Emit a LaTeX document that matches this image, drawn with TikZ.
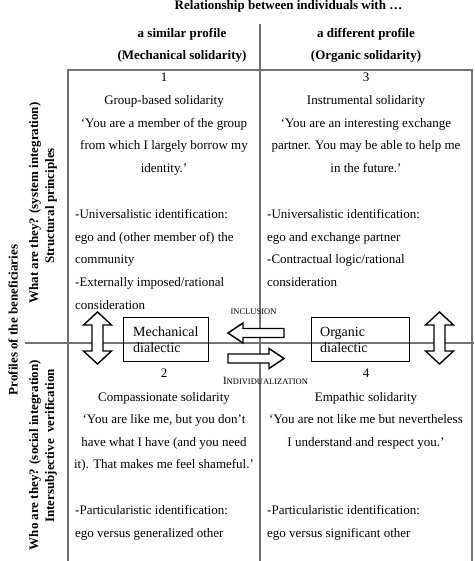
\documentclass[tikz,border=0pt]{standalone}
\usepackage{fontspec}
\setmainfont{Liberation Serif}
\begin{document}
\begin{tikzpicture}[x=1pt,y=-1pt,
  grid/.style={draw=black!55,line width=1.1pt},
  body/.style={inner sep=0pt,font=\fontsize{13}{13}\selectfont},
  cbody/.style={body,anchor=base},
  lbody/.style={body,anchor=base west},
  head/.style={inner sep=0pt,anchor=base,font=\bfseries\fontsize{13}{13}\selectfont},
  side/.style={inner sep=0pt,rotate=90,anchor=center,font=\bfseries\fontsize{13}{13}\selectfont},
  dbox/.style={draw=black,line width=0.9pt,anchor=north west,minimum height=44pt,inner sep=0pt},
  dtext/.style={inner sep=0pt,anchor=base west,font=\fontsize{14}{14}\selectfont},
  smallcap/.style={inner sep=0pt,anchor=base,font=\fontsize{8.5}{8.5}\selectfont},
  blockarrow/.style={draw=black,fill=white,line width=1.4pt,line join=miter}]
\useasboundingbox (0,0) rectangle (474,561);
% grid
\draw[grid] (68,561) -- (68,70) -- (472,70) -- (472,561);
\draw[grid] (260,24) -- (260,561);
\draw[grid] (25,343) -- (474,343);
% headers
\node[head] (title) at (288.5,10) {Relationship between individuals with …};
\node[head] (simA) at (182,37.5) {a similar profile};
\node[head] (simB) at (182,59.5) {(Mechanical solidarity)};
\node[head] (difA) at (366,37.5) {a different profile};
\node[head] (difB) at (366,59.5) {(Organic solidarity)};
% side labels
\node[side] (prof) at (13,320) {Profiles of the beneficiaries};
\node[side] (what) at (35,203) {What are they? (system integration)};
\node[side] (struct) at (51,206) {Structural principles};
\node[side] (who) at (35,455) {Who are they? (social integration)};
\node[side] (inter) at (51,446) {Intersubjective\ \ verification};
% cell 1
\node[cbody] (c1n) at (164,81.5) {1};
\node[cbody] (c1a) at (164,104.3) {Group-based solidarity};
\node[cbody] (c1b) at (164,127.1) {‘You are a member of the group};
\node[cbody] (c1c) at (164,149.9) {from which I largely borrow my};
\node[cbody] (c1d) at (164,172.7) {identity.’};
\node[lbody] (c1e) at (75,218.3) {-Universalistic identification:};
\node[lbody] (c1f) at (75,241.1) {ego and (other member of) the};
\node[lbody] (c1g) at (75,263.9) {community};
\node[lbody] (c1h) at (75,286.7) {-Externally imposed/rational};
\node[lbody] (c1i) at (75,309.5) {consideration};
% cell 3
\node[cbody] (c3n) at (366,81.5) {3};
\node[cbody] (c3a) at (366,104.3) {Instrumental solidarity};
\node[cbody] (c3b) at (366,127.1) {‘You are an interesting exchange};
\node[cbody] (c3c) at (366,149.9) {partner. You may be able to help me};
\node[cbody] (c3d) at (366,172.7) {in the future.’};
\node[lbody] (c3e) at (267,218.3) {-Universalistic identification:};
\node[lbody] (c3f) at (267,241.1) {ego and exchange partner};
\node[lbody] (c3g) at (267,263.9) {-Contractual logic/rational};
\node[lbody] (c3h) at (267,286.7) {consideration};
% middle
\node[smallcap] (incl) at (253.5,314.5) {INCLUSION};
\node[inner sep=0pt,anchor=base] (indiv) at (265.5,384.5) {{\fontsize{11}{11}\selectfont I}{\fontsize{8.5}{8.5}\selectfont NDIVIDUALIZATION}};
\draw[blockarrow] (284,328.5) -- (243,328.5) -- (243,323) -- (228,333) -- (243,343) -- (243,337.5) -- (284,337.5) -- cycle;
\draw[blockarrow] (228,354) -- (269,354) -- (269,348.5) -- (284,358.5) -- (269,368.5) -- (269,363) -- (228,363) -- cycle;
\draw[blockarrow] (97.5,312) -- (111.5,325) -- (103,325) -- (103,351) -- (111.5,351) -- (97.5,364) -- (83.5,351) -- (92,351) -- (92,325) -- (83.5,325) -- cycle;
\draw[blockarrow] (439.5,312) -- (453.5,325) -- (445,325) -- (445,351) -- (453.5,351) -- (439.5,364) -- (425.5,351) -- (434,351) -- (434,325) -- (425.5,325) -- cycle;
\node[dbox,minimum width=85pt] (mbox) at (123,317) {};
\node[dtext] (mt1) at (133,336.5) {Mechanical};
\node[dtext] (mt2) at (133,352.5) {dialectic};
\node[dbox,minimum width=98pt] (obox) at (311,317) {};
\node[dtext] (ot1) at (320,336.5) {Organic};
\node[dtext] (ot2) at (320,352.5) {dialectic};
% cell 2
\node[cbody] (c2n) at (164,377.5) {2};
\node[cbody] (c2a) at (164,401) {Compassionate solidarity};
\node[cbody] (c2b) at (164,423.5) {‘You are like me, but you don’t};
\node[cbody] (c2c) at (164,446) {have what I have (and you need};
\node[cbody] (c2d) at (164,468.5) {it). That makes me feel shameful.’};
\node[lbody] (c2e) at (75,514) {-Particularistic identification:};
\node[lbody] (c2f) at (75,537) {ego versus generalized other};
% cell 4
\node[cbody] (c4n) at (366,377.5) {4};
\node[cbody] (c4a) at (366,401) {Empathic solidarity};
\node[cbody] (c4b) at (366,423.5) {‘You are not like me but nevertheless};
\node[cbody] (c4c) at (366,446) {I understand and respect you.’};
\node[lbody] (c4e) at (267,514) {-Particularistic identification:};
\node[lbody] (c4f) at (267,537) {ego versus significant other};
\end{tikzpicture}
\end{document}
